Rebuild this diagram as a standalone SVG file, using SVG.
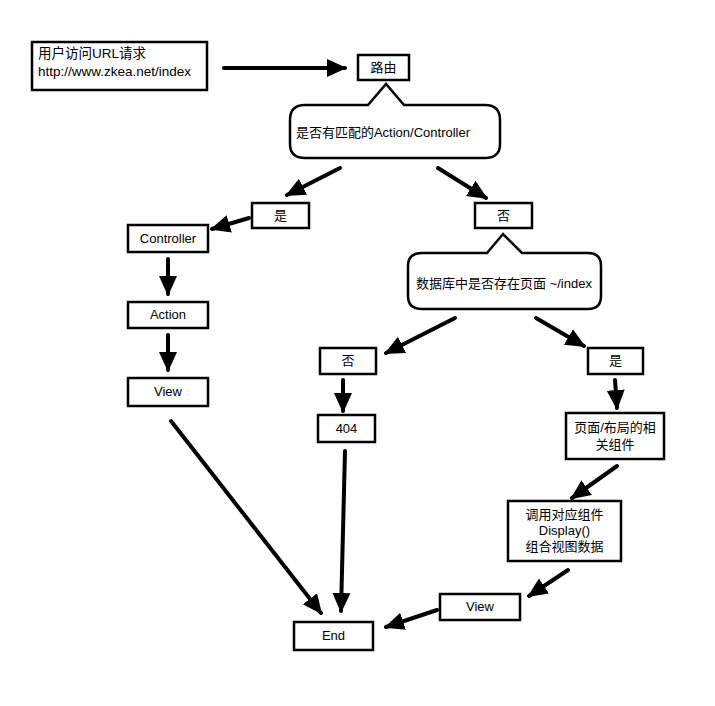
<svg xmlns="http://www.w3.org/2000/svg" width="715" height="706" viewBox="0 0 715 706">
<defs>
<marker id="ah" markerUnits="userSpaceOnUse" markerWidth="20" markerHeight="20" viewBox="0 0 20 20" refX="18" refY="10" orient="auto">
<path d="M0,1 L20,10 L0,19 Z" fill="#000"/>
</marker>
<style>
.box{fill:#fff;stroke:#000;stroke-width:2.5}
.t{font-family:"Liberation Sans","Noto Sans CJK SC",sans-serif;font-size:13px;fill:#000}
.c{text-anchor:middle}
.ar{stroke:#000;stroke-width:4;fill:none;marker-end:url(#ah);stroke-linecap:round}
</style>
</defs>
<rect width="715" height="706" fill="#fff"/>
<g id="connectors">
<line class="ar" x1="224" y1="68" x2="345" y2="68"/>
<line class="ar" x1="340" y1="168" x2="287" y2="195"/>
<line class="ar" x1="438" y1="168" x2="486" y2="198"/>
<line class="ar" x1="249" y1="218" x2="212" y2="229"/>
<line class="ar" x1="168" y1="259" x2="168" y2="294"/>
<line class="ar" x1="168" y1="335" x2="168" y2="370"/>
<line class="ar" x1="171" y1="421" x2="321" y2="613"/>
<line class="ar" x1="455" y1="318" x2="386" y2="353"/>
<line class="ar" x1="536" y1="318" x2="584" y2="346"/>
<line class="ar" x1="343" y1="380" x2="343" y2="411"/>
<line class="ar" x1="345" y1="451" x2="341" y2="611"/>
<line class="ar" x1="615" y1="380" x2="617" y2="408"/>
<line class="ar" x1="617" y1="466" x2="572" y2="498"/>
<line class="ar" x1="568" y1="570" x2="529" y2="596"/>
<line class="ar" x1="437" y1="610" x2="386" y2="627"/>
</g>
<g id="n-request"><rect class="box" x="32" y="42" width="175" height="48"/>
<text class="t" x="38" y="58" style="font-size:13.5px">用户访问URL请求</text><text class="t" x="38" y="76" style="font-size:13.5px">http://www.zkea.net/index</text></g>
<g id="n-route"><rect class="box" x="358" y="55" width="51" height="25"/><text class="t c" x="383.5" y="72">路由</text></g>
<g id="n-q1"><path class="box" d="M305 105 L368 105 L386 84 L404 105 L485 105 Q500 105 500 120 L500 144 Q500 158 485 158 L305 158 Q290 158 290 144 L290 120 Q290 105 305 105 Z"/>
<text class="t c" x="383" y="137">是否有匹配的Action/Controller</text></g>
<g id="n-yes1"><rect class="box" x="252" y="203" width="57" height="25"/><text class="t c" x="280.5" y="220">是</text></g>
<g id="n-no1"><rect class="box" x="475" y="203" width="57" height="25"/><text class="t c" x="503.5" y="220">否</text></g>
<g id="n-controller"><rect class="box" x="128" y="225" width="80" height="27"/><text class="t c" x="168" y="243">Controller</text></g>
<g id="n-action"><rect class="box" x="128" y="302" width="80" height="26"/><text class="t c" x="168" y="319">Action</text></g>
<g id="n-view1"><rect class="box" x="128" y="378" width="80" height="28"/><text class="t c" x="168" y="396">View</text></g>
<g id="n-q2"><path class="box" d="M422 253 L487 253 L503 234 L522 253 L588 253 Q601 253 601 266 L601 296 Q601 309 588 309 L422 309 Q408 309 408 296 L408 266 Q408 253 422 253 Z"/>
<text class="t c" x="504" y="288">数据库中是否存在页面 ~/index</text></g>
<g id="n-no2"><rect class="box" x="320" y="348" width="56" height="26"/><text class="t c" x="348" y="365">否</text></g>
<g id="n-404"><rect class="box" x="318" y="415" width="57" height="27"/><text class="t c" x="346.5" y="433">404</text></g>
<g id="n-yes2"><rect class="box" x="588" y="348" width="55" height="26"/><text class="t c" x="615.5" y="365">是</text></g>
<g id="n-widgets"><rect class="box" x="566" y="413" width="98" height="46"/>
<text class="t c" x="615" y="432">页面/布局的相</text><text class="t c" x="615" y="449">关组件</text></g>
<g id="n-display"><rect class="box" x="508" y="501" width="113" height="60"/>
<text class="t c" x="564.5" y="519">调用对应组件</text><text class="t c" x="564.5" y="535">Display()</text><text class="t c" x="564.5" y="551">组合视图数据</text></g>
<g id="n-view2"><rect class="box" x="440" y="594" width="80" height="26"/><text class="t c" x="480" y="611">View</text></g>
<g id="n-end"><rect class="box" x="294" y="622" width="79" height="28"/><text class="t c" x="333.5" y="640">End</text></g>
</svg>
